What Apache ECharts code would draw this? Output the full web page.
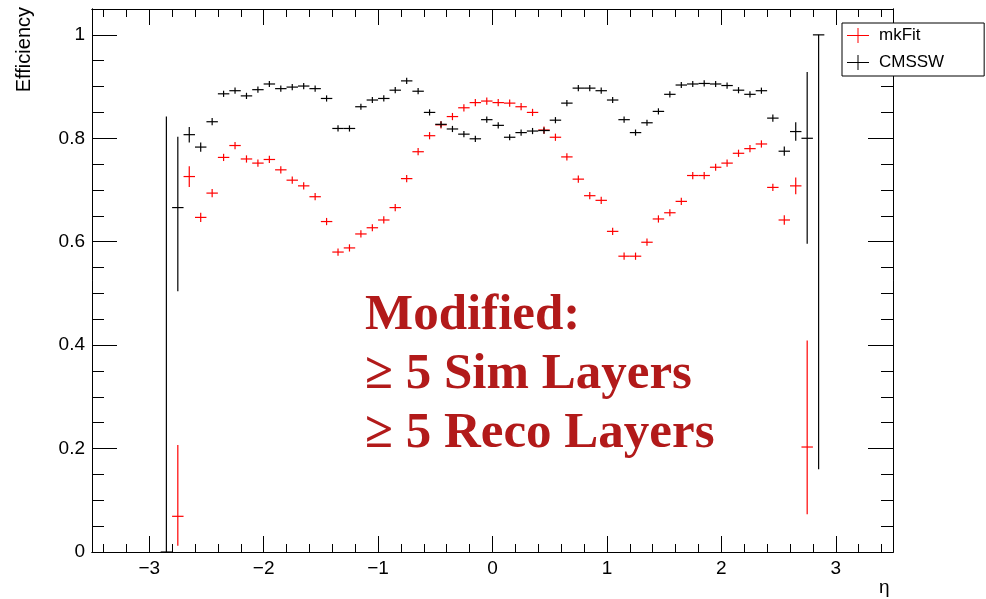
<!DOCTYPE html>
<html>
<head>
<meta charset="utf-8">
<script src="https://cdn.jsdelivr.net/npm/echarts@6/dist/echarts.min.js"></script>
<style>
  html, body { margin: 0; padding: 0; background: #fff; }
  #chart { width: 986px; height: 599px; }
</style>
</head>
<body>
<div id="chart"></div>
<script>
// bin centres in eta (bin width 0.1)
const ETA = [-2.85,-2.75,-2.65,-2.55,-2.45,-2.35,-2.25,-2.15,-2.05,-1.95,
             -1.85,-1.75,-1.65,-1.55,-1.45,-1.35,-1.25,-1.15,-1.05,-0.95,
             -0.85,-0.75,-0.65,-0.55,-0.45,-0.35,-0.25,-0.15,-0.05,0.05,
             0.15,0.25,0.35,0.45,0.55,0.65,0.75,0.85,0.95,1.05,
             1.15,1.25,1.35,1.45,1.55,1.65,1.75,1.85,1.95,2.05,
             2.15,2.25,2.35,2.45,2.55,2.65,2.75,2.85];

const MKFIT = [null,0.069,0.726,0.647,0.694,0.763,0.786,0.760,0.752,0.759,
               0.739,0.719,0.708,0.687,0.639,0.580,0.588,0.615,0.627,0.642,
               0.666,0.722,0.774,0.805,0.826,0.842,0.859,0.869,0.872,0.869,
               0.868,0.861,0.850,0.816,0.802,0.764,0.721,0.689,0.680,0.620,
               0.572,0.572,0.599,0.644,0.656,0.678,0.728,0.728,0.744,0.752,
               0.771,0.780,0.789,0.705,0.642,0.708,0.203,null];
const MKFIT_LO = [0,0.057,0.020,0.009,0.008,0.007,0.007,0.007,0.007,0.007,
                  0.007,0.007,0.007,0.007,0.007,0.007,0.007,0.007,0.007,0.007,
                  0.007,0.007,0.007,0.007,0.007,0.007,0.007,0.007,0.007,0.007,
                  0.007,0.007,0.007,0.007,0.007,0.007,0.007,0.007,0.007,0.007,
                  0.007,0.007,0.007,0.007,0.007,0.007,0.007,0.007,0.007,0.007,
                  0.007,0.007,0.007,0.007,0.009,0.016,0.130,0];
const MKFIT_HI = [0,0.138,0.020,0.009,0.008,0.007,0.007,0.007,0.007,0.007,
                  0.007,0.007,0.007,0.007,0.007,0.007,0.007,0.007,0.007,0.007,
                  0.007,0.007,0.007,0.007,0.007,0.007,0.007,0.007,0.007,0.007,
                  0.007,0.007,0.007,0.007,0.007,0.007,0.007,0.007,0.007,0.007,
                  0.007,0.007,0.007,0.007,0.007,0.007,0.007,0.007,0.007,0.007,
                  0.007,0.007,0.007,0.007,0.009,0.016,0.206,0];

const CMSSW = [0,0.666,0.807,0.783,0.832,0.886,0.892,0.882,0.894,0.905,
               0.896,0.899,0.901,0.896,0.877,0.819,0.819,0.861,0.874,0.877,
               0.893,0.911,0.891,0.850,0.827,0.818,0.808,0.799,0.836,0.825,
               0.802,0.811,0.814,0.815,0.835,0.868,0.897,0.897,0.892,0.874,
               0.836,0.811,0.830,0.852,0.885,0.903,0.905,0.906,0.905,0.902,
               0.893,0.885,0.892,0.839,0.775,0.813,0.800,1.000];
const CMSSW_LO = [0,0.162,0.015,0.009,0.007,0.006,0.006,0.006,0.006,0.006,
                  0.006,0.006,0.006,0.006,0.006,0.006,0.006,0.006,0.006,0.006,
                  0.006,0.006,0.006,0.006,0.006,0.006,0.006,0.006,0.006,0.006,
                  0.006,0.006,0.006,0.006,0.006,0.006,0.006,0.006,0.006,0.006,
                  0.006,0.006,0.006,0.006,0.006,0.006,0.006,0.006,0.006,0.006,
                  0.006,0.006,0.006,0.007,0.009,0.018,0.204,0.840];
const CMSSW_HI = [0.842,0.137,0.015,0.009,0.007,0.006,0.006,0.006,0.006,0.006,
                  0.006,0.006,0.006,0.006,0.006,0.006,0.006,0.006,0.006,0.006,
                  0.006,0.006,0.006,0.006,0.006,0.006,0.006,0.006,0.006,0.006,
                  0.006,0.006,0.006,0.006,0.006,0.006,0.006,0.006,0.006,0.006,
                  0.006,0.006,0.006,0.006,0.006,0.006,0.006,0.006,0.006,0.006,
                  0.006,0.006,0.006,0.007,0.009,0.018,0.128,0];

const X_MAJOR = [-3,-2,-1,0,1,2,3];
const X_MINOR = [-3.4,-3.2,-2.8,-2.6,-2.4,-2.2,-1.8,-1.6,-1.4,-1.2,-0.8,-0.6,-0.4,-0.2,
                 0.2,0.4,0.6,0.8,1.2,1.4,1.6,1.8,2.2,2.4,2.6,2.8,3.2,3.4];
const Y_MAJOR = [0,0.2,0.4,0.6,0.8,1];
const Y_MINOR = [0.05,0.1,0.15,0.25,0.3,0.35,0.45,0.5,0.55,0.65,0.7,0.75,0.85,0.9,0.95];

const NOTE = ['Modified:', '\u2265 5 Sim Layers', '\u2265 5 Reco Layers'];

const FONT = 'Liberation Sans, Arial, Helvetica, sans-serif';
const HALF_BIN = 0.05;

function pts(v, lo, hi){
  return ETA.map((e,i)=>[e, v[i], lo[i], hi[i]]).filter(d=>d[1]!=null);
}

function errCross(color){
  return (params, api) => {
    const x = api.value(0), y = api.value(1), lo = api.value(2), hi = api.value(3);
    const a = api.coord([x - HALF_BIN, y]), b = api.coord([x + HALF_BIN, y]);
    const t = api.coord([x, y + hi]), d = api.coord([x, y - lo]);
    const st = {stroke: color, lineWidth: 1.2};
    return {type:'group', children:[
      {type:'line', shape:{x1:a[0], y1:a[1], x2:b[0], y2:b[1]}, style:st},
      {type:'line', shape:{x1:t[0], y1:t[1], x2:d[0], y2:d[1]}, style:st}
    ]};
  };
}

const fmtX = v => v < 0 ? '\u2212' + (-v) : String(v);
const LINE = {show:true, onZero:false, lineStyle:{color:'#000', width:1}};

function xAx(pos, ticks, len, labels){
  return {type:'value', position:pos, min:-3.5, max:3.5, axisLine:LINE,
    splitLine:{show:false},
    axisTick:{show:true, inside:true, length:len, customValues:ticks, lineStyle:{color:'#000', width:1}},
    axisLabel:{show:labels, customValues:ticks, formatter:fmtX, color:'#000', fontSize:19,
               fontFamily:FONT, margin:7}};
}
function yAx(pos, ticks, len, labels){
  return {type:'value', position:pos, min:0, max:1.05, axisLine:LINE,
    splitLine:{show:false},
    axisTick:{show:true, inside:true, length:len, customValues:ticks, lineStyle:{color:'#000', width:1}},
    axisLabel:{show:labels, customValues:ticks, color:'#000', fontSize:19,
               fontFamily:FONT, margin:7}};
}

const chart = echarts.init(document.getElementById('chart'), null, {renderer:'canvas'});
chart.setOption({
  animation:false,
  textStyle:{fontFamily:FONT},
  grid:{left:92, right:93, top:9, bottom:47},
  xAxis:[xAx('bottom', X_MAJOR, 16, true), xAx('bottom', X_MINOR, 8, false),
         xAx('top', X_MAJOR, 16, false), xAx('top', X_MINOR, 8, false)],
  yAxis:[yAx('left', Y_MAJOR, 25, true), yAx('left', Y_MINOR, 12, false),
         yAx('right', Y_MAJOR, 25, false), yAx('right', Y_MINOR, 12, false)],
  legend:{
    orient:'vertical', left:842, top:23,
    padding:[4,40,5,5], itemGap:10, itemWidth:22, itemHeight:15,
    backgroundColor:'#fff', borderColor:'#000', borderWidth:1, borderRadius:0,
    icon:'path://M0,7H22V8H0Z M10.5,0H11.5V15H10.5Z',
    textStyle:{fontFamily:FONT, fontSize:17, color:'#000', padding:[0,0,0,5]},
    data:['mkFit','CMSSW']
  },
  graphic:[
    {type:'text', left:14, top:7, rotation:Math.PI/2, style:{text:'Efficiency', font:'20px ' + FONT, fill:'#000'}},
    {type:'text', left:879, top:578, style:{text:'\u03b7', font:'19px ' + FONT, fill:'#000'}},
    ...NOTE.map((t,i)=>({type:'text', x:365, y:316 + i*59, z:10,
      style:{text:t, font:'bold 51px "Liberation Serif", "Times New Roman", serif', fill:'#b21a1a',
             verticalAlign:'middle'}}))
  ],
  series:[
    {name:'mkFit', type:'custom', renderItem:errCross('#ff0000'), itemStyle:{color:'#ff0000'},
     data:pts(MKFIT, MKFIT_LO, MKFIT_HI), z:2},
    {name:'CMSSW', type:'custom', renderItem:errCross('#000000'), itemStyle:{color:'#000000'},
     data:pts(CMSSW, CMSSW_LO, CMSSW_HI), z:3}
  ]
});
</script>
</body>
</html>
